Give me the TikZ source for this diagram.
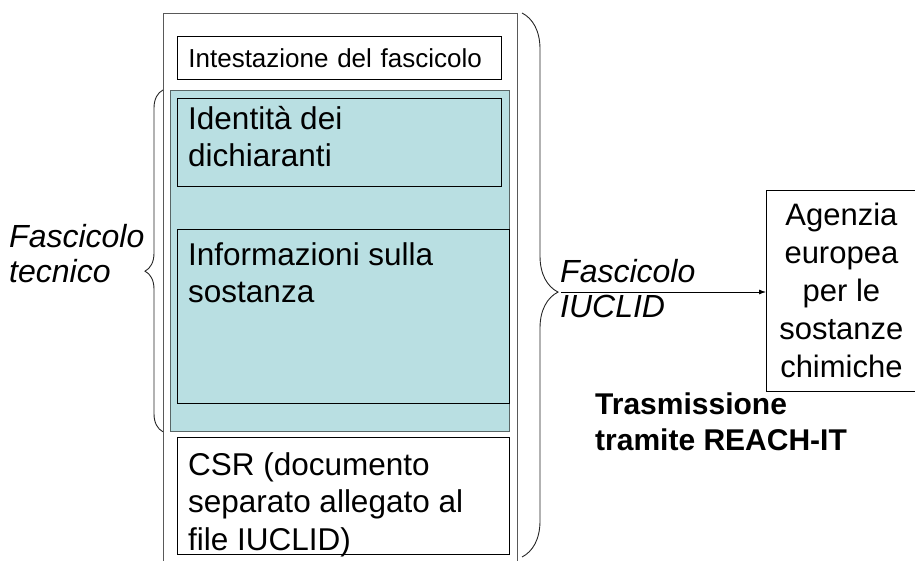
\documentclass[tikz,border=0pt]{standalone}
\usepackage{fontspec}
\setmainfont{Liberation Sans}
\usetikzlibrary{decorations.pathreplacing,arrows.meta}

\begin{document}
\begin{tikzpicture}[x=1pt,y=-1pt,
		panel/.style={draw=black,line width=0.8pt,inner sep=0pt,anchor=north west},
		paneltext/.style={anchor=north west,inner sep=0pt,align=left,font=\fontsize{31.5}{37.5}\selectfont},
		brace/.style={draw=cbrace,line width=0.9pt,decorate},
		note/.style={inner sep=0pt,align=left,font=\fontsize{32}{35}\selectfont\itshape}]
			\definecolor{cframe}{rgb}{0.35,0.35,0.35}
			\definecolor{cbrace}{rgb}{0.15,0.15,0.15}
			\definecolor{cteal}{rgb}{0.35,0.40,0.40}
			\definecolor{cfteal}{rgb}{0.725,0.875,0.886}
			%
			\useasboundingbox (0,0) rectangle (915,561);
			\draw[draw=cframe,line width=0.9pt] (163,561) -- (163,13) -- (517,13) -- (517,561);
			%
			\node[panel,minimum width=324pt,minimum height=43pt,text width=302pt,inner xsep=11pt,align=left,font=\fontsize{26}{30}\selectfont] (head) at (177,36) {Intestazione del fascicolo};
			\node[panel,draw=cteal,fill=cfteal,minimum width=339pt,minimum height=341pt] (tech) at (170,90) {};
			\node[panel,minimum width=324pt,minimum height=88pt] (ident) at (177,98) {};
			\node[paneltext] (identtxt) at ([xshift=11pt,yshift=-8pt]ident.north west) {Identità dei\\dichiaranti};
			\node[panel,minimum width=332pt,minimum height=174pt] (info) at (177,229) {};
			\node[paneltext] (infotxt) at ([xshift=11pt,yshift=-13pt]info.north west) {Informazioni sulla\\sostanza};
			\node[panel,minimum width=332pt,minimum height=117pt] (csr) at (177,437) {};
			\node[paneltext] (csrtxt) at ([xshift=11pt,yshift=-15pt]csr.north west) {CSR (documento\\separato allegato al\\file IUCLID)};
			%
			\node[panel,minimum width=150pt,minimum height=201pt,align=center,font=\fontsize{31}{38}\selectfont] (echa) at (766,190) {Agenzia\\europea\\per le\\sostanze\\chimiche};
			\node[anchor=north west,inner sep=0pt,align=left,font=\fontsize{30}{36}\selectfont\bfseries] (reach) at (595,393) {Trasmissione\\tramite REACH-IT};
			%
			\draw[brace,decoration={brace,amplitude=18pt,aspect=0.47}] ([xshift=-7pt]tech.south west) -- ([xshift=-7pt]tech.north west);
			\node[note,anchor=west] (tecnico) at (9,254) {Fascicolo\\tecnico};
			\draw[brace,decoration={brace,amplitude=36pt,aspect=0.513}] (522,13) -- (522,557);
			\coordinate (iuclidtip) at (558,292);
			\node[note,anchor=west] (iuclid) at (560,289) {Fascicolo\\IUCLID};
			\draw[-{Latex[length=7pt,width=5pt]},line width=0.8pt] ([xshift=3pt]iuclidtip) -- (iuclidtip -| echa.west);
			%
		\end{tikzpicture}
\end{document}
